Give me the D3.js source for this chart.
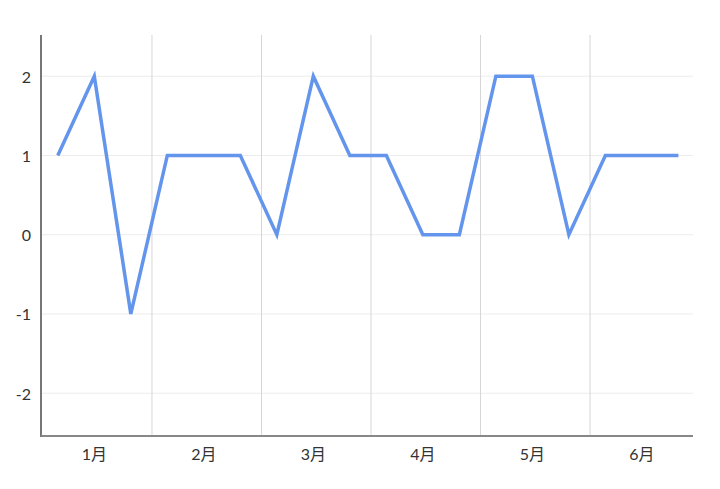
<!DOCTYPE html>
<html>
<head>
<meta charset="utf-8">
<script src="https://cdn.jsdelivr.net/npm/d3@7"></script>
<style>
  html, body { margin: 0; padding: 0; background: #fff; }
  svg { display: block; }
  text { font-family: "Lato", "Noto Sans CJK JP", sans-serif; }
</style>
</head>
<body>
<svg id="chart" width="720" height="489"></svg>
<script>
// ---- data ----
const values = [1, 2, -1, 1, 1, 1, 0, 2, 1, 1, 0, 0, 2, 2, 0, 1, 1, 1];
const months = ["1月", "2月", "3月", "4月", "5月", "6月"];
const pointsPerMonth = 3;
const yTicks = [-2, -1, 0, 1, 2];

// ---- layout ----
const plotL = 41, plotR = 693, plotT = 35, plotB = 436;

const svg = d3.select("#chart");

const x = d3.scaleLinear().domain([-0.46, values.length - 0.6]).range([plotL, plotR]);
const y = d3.scaleLinear().domain([-2.54, 2.52]).range([plotB, plotT]);

// horizontal gridlines
svg.append("g").selectAll("line").data(yTicks).join("line")
  .attr("x1", plotL).attr("x2", plotR)
  .attr("y1", d => y(d)).attr("y2", d => y(d))
  .attr("stroke", "#ececec").attr("stroke-width", 1);

// vertical month boundary gridlines
const boundaries = d3.range(1, months.length).map(k => k * pointsPerMonth - 0.42);
svg.append("g").selectAll("line").data(boundaries).join("line")
  .attr("x1", d => x(d)).attr("x2", d => x(d))
  .attr("y1", plotT).attr("y2", plotB)
  .attr("stroke", "#d6d6d6").attr("stroke-width", 1);

// y axis labels
svg.append("g").selectAll("text").data(yTicks).join("text")
  .attr("x", 31).attr("y", d => y(d))
  .attr("text-anchor", "end").attr("dominant-baseline", "central")
  .attr("font-size", 16).attr("fill", "#333")
  .text(d => d);

// x axis labels
svg.append("g").selectAll("text").data(months).join("text")
  .attr("x", (d, i) => x(i * pointsPerMonth + 1))
  .attr("y", 453)
  .attr("text-anchor", "middle").attr("dominant-baseline", "central")
  .attr("font-size", 16).attr("fill", "#333")
  .text(d => d);

// axis lines
svg.append("line").attr("x1", plotL).attr("x2", plotL).attr("y1", plotT).attr("y2", plotB + 1)
  .attr("stroke", "#777").attr("stroke-width", 2);
svg.append("line").attr("x1", plotL).attr("x2", plotR).attr("y1", plotB).attr("y2", plotB)
  .attr("stroke", "#888").attr("stroke-width", 2);

// data line
const line = d3.line().x((d, i) => x(i)).y(d => y(d));
svg.append("path").datum(values)
  .attr("d", line)
  .attr("fill", "none")
  .attr("stroke", "#6495ED")
  .attr("stroke-width", 3.5)
  .attr("stroke-linejoin", "miter");
</script>
</body>
</html>
